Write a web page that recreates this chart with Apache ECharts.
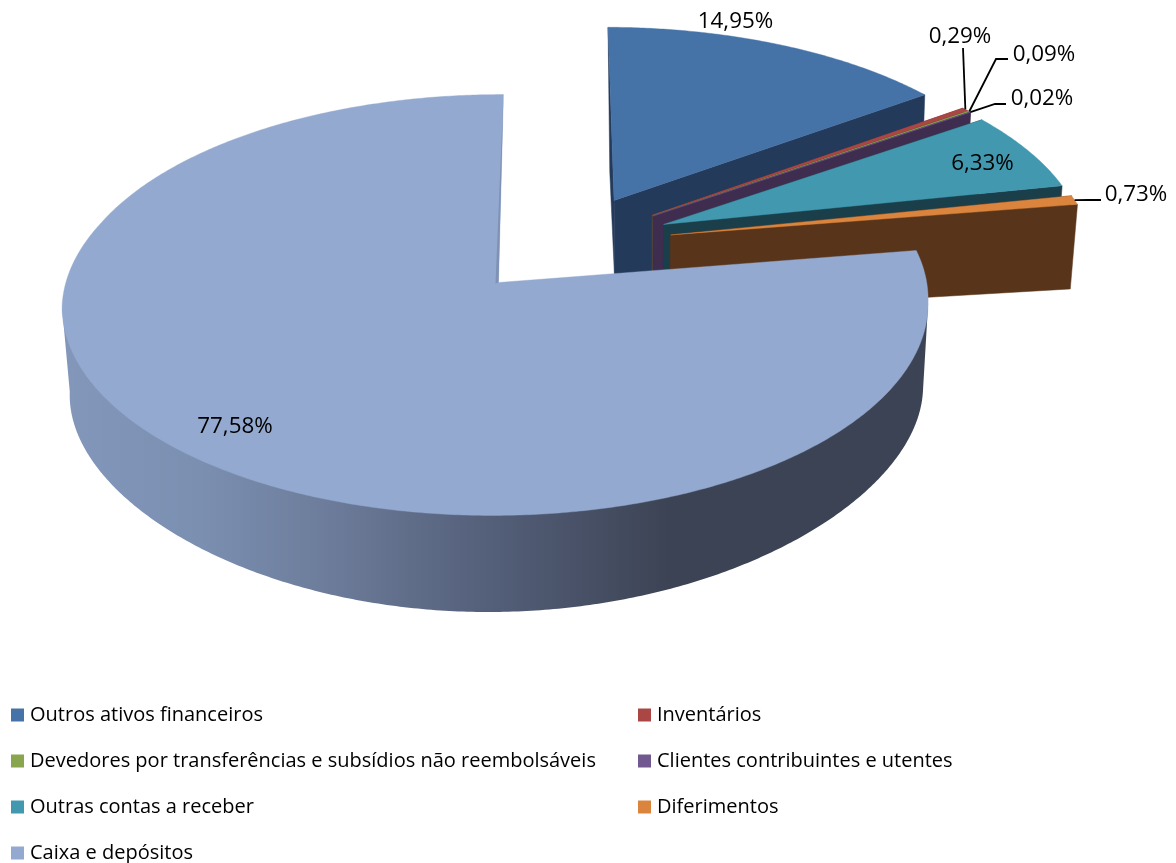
<!DOCTYPE html>
<html><head><meta charset="utf-8">
<style>html,body{margin:0;padding:0;background:#fff}#c{width:1176px;height:863px}</style>
<script src="https://cdn.jsdelivr.net/npm/echarts@6/dist/echarts.min.js"></script>
</head><body><div id="c"></div>
<script>
const categories = ['Outros ativos financeiros','Inventários','Devedores por transferências e subsídios não reembolsáveis','Clientes contribuintes e utentes','Outras contas a receber','Diferimentos','Caixa e depósitos'];
const values = [14.95,0.29,0.09,0.02,6.33,0.73,77.58];
const topColors = ['#4572a7','#aa4643','#89a54e','#71588f','#4198af','#db843d','#93a9cf'];
const wallColors = ['#243a5a','#6e2d2b','#55672f','#3f2d50','#1a3e4a','#58341a','#7f92b4'];

// label layout: label centre and leader points from the label toward the slice
const labelLayout = [
  {c:[735.5,22]},
  {c:[960,37], leader:[[963,48]]},
  {c:[1044,55], leader:[[1008,59],[996,59]]},
  {c:[1042,99], leader:[[1006,104],[995,104]]},
  {c:[982.5,164]},
  {c:[1136,195], leader:[[1101,200],[1088,200]]},
  {c:[235,427]}
];
const legendPos = [[11,705],[638,705],[11,751],[638,751],[11,797],[638,797],[11,843]];

// projection of the disc (unit radius, v pointing toward viewer)
const P = {cx:498.5, cy:282.5, d:430.5, a:208, c:-0.107, explode:0.25, rot:0.85,
           by:352, ba:182, bc:-0.3, sx:0.9827, tx:11.1, roll:0.0045, sag:3.5,
           rimX:498, rimD:418, rimSkew:8, rimK:-0.2};
const total = values.reduce((s,v)=>s+v,0);
const rad = Math.PI/180;
let acc = 0;
const spans = values.map(v=>{const s=acc; acc+=v; return [s/total*360+P.rot,(s+v)/total*360+P.rot];});
const lastIndex = values.length-1;
const lastMid = (spans[lastIndex][0]+spans[lastIndex][1])/2;
const origin = [-P.explode*Math.sin(lastMid*rad), P.explode*Math.cos(lastMid*rad)];
function offs(i){
  const m=(spans[i][0]+spans[i][1])/2;
  return [origin[0]+P.explode*Math.sin(m*rad), origin[1]-P.explode*Math.cos(m*rad)];
}
function disc(i,th,r){const o=offs(i);return [o[0]+r*Math.sin(th*rad),o[1]-r*Math.cos(th*rad)];}
function rawTop(q){
  const w=1+P.c*q[1];
  let x=P.cx+P.d*q[0]/w; const y=P.cy+P.a*q[1]/w;
  // the front of the disc leans slightly left of its apex
  const lean=Math.max(0,Math.min(1,(q[1]+0.3)/0.4));
  x-=P.sag*lean*Math.min(1,Math.hypot(q[0],q[1]));
  return [x,y];
}
function topPt(q){const t=rawTop(q);return [t[0]+P.roll*(t[1]-P.cy),t[1]-P.roll*(t[0]-P.cx)];}
function botY(x,v){return P.by+P.ba*v/(1+P.bc*v)-0.5*P.roll*(x-P.cx);}
function botPt(q){const t=rawTop(q);const x=P.sx*t[0]+P.tx;return [x,botY(x,q[1])];}
// lower rim of the large slice
function rimPt(t){
  const u=Math.sin(t*rad), v=-Math.cos(t*rad);
  const x=P.rimX+P.rimD*u/(1+P.rimK*v)-P.rimSkew*v;
  return [x,botY(x,v)];
}
function arc(a,b,step){const n=Math.max(2,Math.ceil((b-a)/(step||0.5)));const r=[];for(let k=0;k<=n;k++)r.push(a+(b-a)*k/n);return r;}

const sideGradient = new echarts.graphic.LinearGradient(62,0,930,0,[
  {offset:0,color:'#8397bb'},{offset:0.16,color:'#7b8fb1'},{offset:0.32,color:'#6b7a98'},
  {offset:0.5,color:'#535e78'},{offset:0.7,color:'#3c4354'},{offset:1,color:'#3c4354'}],true);

function renderSlice(params,api){
  const i=params.seriesIndex, value=api.value(0);
  const a=spans[i][0], b=a+value/total*360;
  const kids=[];
  const apexQ=disc(i,a,0);
  const poly=(pts,fill,sw)=>kids.push({type:'polygon',shape:{points:pts},style:{fill:fill,stroke:sw?fill:null,lineWidth:sw||0}});
  const last=i===lastIndex;
  if(!last){
    [a,b].forEach(t=>{
      const q=disc(i,t,1);
      poly([topPt(apexQ),topPt(q),botPt(q),botPt(apexQ)],wallColors[i],0.5);
    });
  } else {
    // front wall: hull between the widest points of the upper and lower rims
    const th=arc(a,b);
    const upper=th.filter(t=>-Math.cos(t*rad)>=-P.c);
    const lower=th.filter(t=>-Math.cos(t*rad)>=-P.rimK);
    const pts=[topPt(disc(i,upper[0],1))].concat(lower.map(rimPt),[topPt(disc(i,upper[upper.length-1],1))]);
    poly(pts,sideGradient);
  }
  const pts=[topPt(apexQ)].concat(arc(a,b).map(t=>topPt(disc(i,t,1))));
  poly(pts,topColors[i],0.4);
  if(last){
    const ap=topPt(apexQ), o=topPt(disc(i,b,1));
    kids.push({type:'polygon',shape:{points:[o,ap,[ap[0]-3,ap[1]+1]]},style:{fill:wallColors[i]}});
  }
  const L=labelLayout[i];
  if(L.leader){
    const end=topPt(disc(i,(a+b)/2,1));
    kids.push({type:'polyline',shape:{points:L.leader.concat([end])},style:{stroke:'#000',lineWidth:1.8,fill:null}});
  }
  kids.push({type:'text',style:{text:value.toFixed(2).replace('.',',')+'%',x:L.c[0],y:L.c[1],
    align:'center',verticalAlign:'middle',fill:'#000',font:'22.4px "Open Sans"'}});
  return {type:'group',children:kids};
}

const option={
  animation:false,
  backgroundColor:'#fff',
  legend:categories.map((n,i)=>({
    data:[n],left:legendPos[i][0],top:legendPos[i][1],orient:'horizontal',padding:0,
    itemWidth:13,itemHeight:13,icon:'rect',selectedMode:false,
    textStyle:{fontFamily:'Open Sans',fontSize:20,color:'#000',padding:[2,0,0,1]}
  })),
  series:categories.map((n,i)=>({
    type:'custom',name:n,coordinateSystem:'none',silent:true,
    itemStyle:{color:topColors[i]},
    renderItem:renderSlice,
    data:[[values[i]]]
  }))
};
const chart=echarts.init(document.getElementById('c'),null,{renderer:'canvas'});
chart.setOption(option);
</script>
</body></html>
